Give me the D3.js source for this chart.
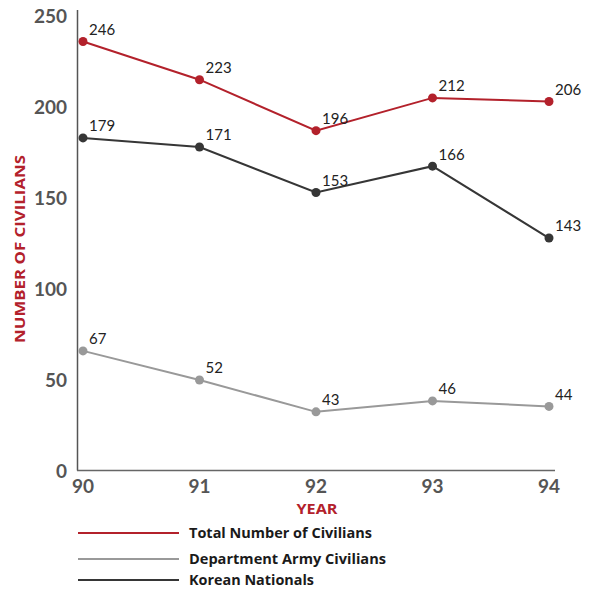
<!DOCTYPE html>
<html><head><meta charset="utf-8">
<script src="https://cdn.jsdelivr.net/npm/d3@7"></script>
<style>body{margin:0;background:#fff;}svg{display:block;}</style>
</head><body>
<svg id="c" width="589" height="592"></svg>
<script>
const years = ["90","91","92","93","94"];
const yTicks = [0,50,100,150,200,250];
// plotted positions (as drawn) and printed labels
const totalValues = [236,215,187,205,203];
const totalLabels = ["246","223","196","212","206"];
const koreanValues = [183,178,153,167.5,128];
const koreanLabels = ["179","171","153","166","143"];
const armyValues = [66,50,32.5,38.5,35.5];
const armyLabels = ["67","52","43","46","44"];
const seriesNames = ["Total Number of Civilians","Department Army Civilians","Korean Nationals"];
const seriesColors = ["#b3212b","#999999","#363636"];

const svg = d3.select("#c");
const x = d3.scalePoint().domain(years).range([83,549]);
const y = d3.scaleLinear().domain([0,250]).range([471,16]);
const font = "Lato, 'Open Sans', sans-serif";
const font2 = "'Open Sans', Lato, sans-serif";

// axes
svg.append("line").attr("x1",77.5).attr("x2",77.5).attr("y1",10).attr("y2",470.5).attr("stroke","#555").attr("stroke-width",1.5);
svg.append("line").attr("x1",77).attr("x2",555).attr("y1",470.5).attr("y2",470.5).attr("stroke","#666").attr("stroke-width",1.5);

svg.selectAll(".yt").data(yTicks).join("text")
  .attr("x",67).attr("y",d=>y(d)).attr("dy","0.36em").attr("text-anchor","end")
  .attr("font-family",font).attr("font-weight","bold").attr("font-size",19).attr("fill","#555")
  .text(d=>d);
svg.selectAll(".xt").data(years).join("text")
  .attr("x",d=>x(d)).attr("y",486).attr("dy","0.36em").attr("text-anchor","middle")
  .attr("font-family",font).attr("font-weight","bold").attr("font-size",19).attr("fill","#555")
  .text(d=>d);

svg.append("text").attr("transform","translate(20,249) rotate(-90)").attr("text-anchor","middle")
  .attr("dy","0.36em").attr("font-family",font2).attr("font-weight","bold").attr("font-size",15).attr("fill","#b3212b")
  .attr("textLength",188).attr("lengthAdjust","spacingAndGlyphs")
  .text("NUMBER OF CIVILIANS");
svg.append("text").attr("x",317).attr("y",509).attr("dy","0.36em").attr("text-anchor","middle")
  .attr("font-family",font2).attr("font-weight","bold").attr("font-size",14).attr("fill","#b3212b")
  .attr("textLength",41).attr("lengthAdjust","spacingAndGlyphs")
  .text("YEAR");

const series = [
  {vals: totalValues, labels: totalLabels, color: seriesColors[0]},
  {vals: koreanValues, labels: koreanLabels, color: seriesColors[2]},
  {vals: armyValues, labels: armyLabels, color: seriesColors[1]}
];
const line = d3.line().x((d,i)=>x(years[i])).y(d=>y(d));
series.forEach(s=>{
  svg.append("path").attr("d",line(s.vals)).attr("fill","none").attr("stroke",s.color).attr("stroke-width",2);
  svg.selectAll(null).data(s.vals).join("circle")
    .attr("cx",(d,i)=>x(years[i])).attr("cy",d=>y(d)).attr("r",4.5).attr("fill",s.color);
  svg.selectAll(null).data(s.vals).join("text")
    .attr("x",(d,i)=>x(years[i])+6).attr("y",d=>y(d)-12).attr("dy","0.36em")
    .attr("font-family",font).attr("font-size",15).attr("fill","#222")
    .text((d,i)=>s.labels[i]);
});

// legend
const legY = [533,559,580];
const legLen = [183,197,125];
seriesNames.forEach((n,i)=>{
  svg.append("line").attr("x1",78).attr("x2",179).attr("y1",legY[i]).attr("y2",legY[i]).attr("stroke",seriesColors[i]).attr("stroke-width",2);
  svg.append("text").attr("x",189).attr("y",legY[i]).attr("dy","0.36em")
    .attr("font-family",font2).attr("font-weight","bold").attr("font-size",14).attr("fill","#1a1a1a")
    .attr("textLength",legLen[i]).attr("lengthAdjust","spacingAndGlyphs").text(n);
});
</script>
</body></html>
